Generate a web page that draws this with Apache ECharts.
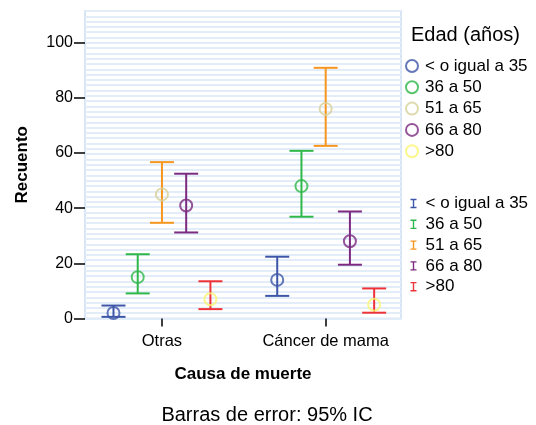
<!DOCTYPE html>
<html><head><meta charset="utf-8">
<script src="https://cdn.jsdelivr.net/npm/echarts@6/dist/echarts.min.js"></script>
<style>html,body{margin:0;padding:0;background:#fff}#c{width:536px;height:425px}</style>
</head><body><div id="c"></div>
<script>
const categories = ['Otras', 'Cáncer de mama'];
const groups = ['< o igual a 35', '36 a 50', '51 a 65', '66 a 80', '>80'];
// values per group: [Otras, Cáncer de mama]
const counts = [[2, 14], [15, 48], [45, 76], [41, 28], [7, 5]];
const lower  = [[0.6, 8.2], [9.1, 36.9], [34.7, 62.6], [31.2, 19.5], [3.4, 2.1]];
const upper  = [[4.7, 22.4], [23.3, 60.8], [56.7, 90.9], [52.5, 38.8], [13.5, 10.9]];
const yTicks = [0, 20, 40, 60, 80, 100];

const circleColors = ['#3d56a8', '#2fb84a', '#d6cf98', '#7b2a80', '#faf570'];
const barColors    = ['#3d56a8', '#2fb84a', '#f7961e', '#7b2a80', '#ee3338'];
const FONT = 'Liberation Sans, Arial, sans-serif';
const groupOffset = 0.148;

const series = [];
groups.forEach((g, k) => {
  const off = (k - 2) * groupOffset;
  series.push({
    name: 'eb:' + g,
    type: 'custom',
    xAxisIndex: 0, yAxisIndex: 0,
    itemStyle: { color: barColors[k] },
    data: categories.map((c, i) => [i + off, lower[k][i], upper[k][i]]),
    renderItem: function (params, api) {
      const x = api.value(0);
      const lo = api.coord([x, api.value(1)]);
      const hi = api.coord([x, api.value(2)]);
      const hw = 12;
      const st = { stroke: barColors[k], lineWidth: 2, fill: null };
      return {
        type: 'group',
        children: [
          { type: 'line', shape: { x1: lo[0], y1: lo[1], x2: hi[0], y2: hi[1] }, style: st },
          { type: 'line', shape: { x1: lo[0] - hw, y1: lo[1], x2: lo[0] + hw, y2: lo[1] }, style: st },
          { type: 'line', shape: { x1: hi[0] - hw, y1: hi[1], x2: hi[0] + hw, y2: hi[1] }, style: st }
        ]
      };
    },
    z: 2
  });
});
groups.forEach((g, k) => {
  const off = (k - 2) * groupOffset;
  series.push({
    name: g,
    type: 'scatter',
    xAxisIndex: 0, yAxisIndex: 0,
    symbol: 'circle',
    symbolSize: 12,
    itemStyle: { color: 'rgba(0,0,0,0)', borderColor: circleColors[k], borderWidth: 2 },
    emphasis: { disabled: true },
    data: categories.map((c, i) => [i + off, counts[k][i]]),
    z: 3
  });
});

const chart = echarts.init(document.getElementById('c'), null, { renderer: 'canvas' });
chart.setOption({
  backgroundColor: '#fff',
  animation: false,
  textStyle: { fontFamily: FONT },
  grid: { left: 85, right: 135, top: 11, bottom: 106.5, show: true, borderColor: '#d8e5f6', borderWidth: 2, backgroundColor: '#fff' },
  xAxis: {
    type: 'value', min: -0.47, max: 1.46,
    splitLine: { show: false },
    axisLine: { show: false, onZero: false },
    axisTick: { show: true, customValues: [0, 1], length: 8, lineStyle: { color: '#000', width: 1.5 } },
    axisLabel: { customValues: [0, 1], formatter: v => categories[Math.round(v)], color: '#000', fontSize: 16.5, margin: 14, fontFamily: FONT },
    name: 'Causa de muerte', nameLocation: 'middle', nameGap: 47,
    nameTextStyle: { color: '#000', fontSize: 17, fontWeight: 'bold', fontFamily: FONT }
  },
  yAxis: [{
    type: 'value', min: 0, max: 111.5,
    splitLine: { show: false },
    axisLine: { show: false, onZero: false },
    axisTick: { show: true, customValues: yTicks, length: 11, lineStyle: { color: '#000', width: 1.5 } },
    axisLabel: { customValues: yTicks, color: '#000', fontSize: 16, margin: 12, fontFamily: FONT },
    name: 'Recuento', nameLocation: 'middle', nameGap: 54, nameRotate: 90,
    nameTextStyle: { color: '#000', fontSize: 17, fontWeight: 'bold', fontFamily: FONT }
  }, {
    type: 'value', min: 0, max: 58, interval: 1, position: 'left',
    axisLine: { show: false, onZero: false }, axisTick: { show: false }, axisLabel: { show: false },
    splitLine: { show: true, lineStyle: { color: '#e3edfa', width: 2 } }
  }],
  legend: [{
    data: groups,
    orient: 'vertical', left: 405, top: 57.5, padding: 0,
    itemWidth: 12, itemHeight: 12, itemGap: 4.3,
    itemStyle: { borderWidth: 2 },
    selectedMode: false,
    textStyle: { color: '#000', fontSize: 17, lineHeight: 17, fontFamily: FONT, padding: [0, 0, 0, 2] }
  }, {
    data: groups.map(g => 'eb:' + g),
    orient: 'vertical', left: 410.5, top: 195, padding: 0,
    itemWidth: 6, itemHeight: 11, itemGap: 3.8,
    icon: 'path://M0,0H7V1.6H4.3V9.4H7V11H0V9.4H2.7V1.6H0Z',
    selectedMode: false,
    formatter: n => n.replace('eb:', ''),
    textStyle: { color: '#000', fontSize: 17, lineHeight: 17, fontFamily: FONT, padding: [0, 0, 0, 4] }
  }],
  graphic: [
    { type: 'text', left: 411, top: 25, style: { text: 'Edad (años)', fill: '#000', font: '20px ' + FONT } },
    { type: 'text', x: 267, y: 415, style: { text: 'Barras de error: 95% IC', fill: '#000', font: '20px ' + FONT, textAlign: 'center', textVerticalAlign: 'middle' } }
  ],
  series: series
});
</script></body></html>
